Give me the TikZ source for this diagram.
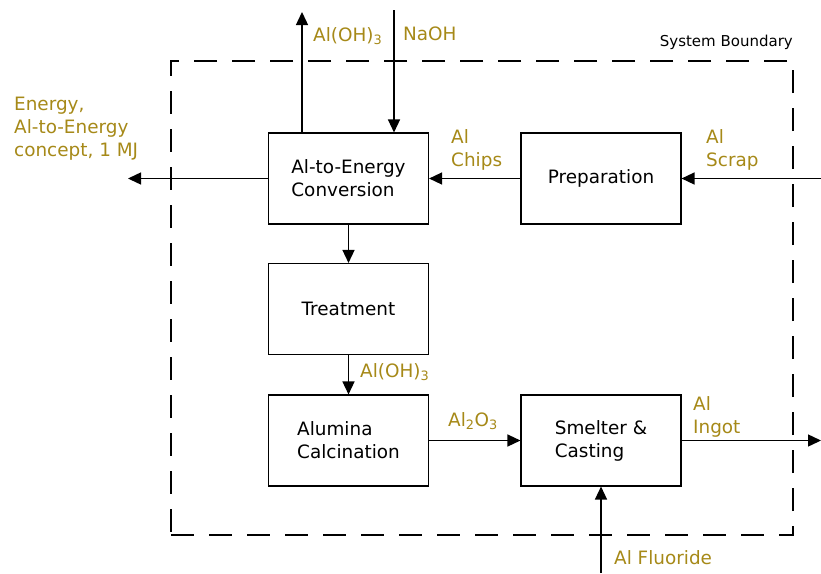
\documentclass[tikz,border=0pt]{standalone}
\usepackage{fontspec}
\setmainfont{DejaVu Sans}
\usetikzlibrary{arrows.meta}
\definecolor{flowgold}{RGB}{166,137,24}

\begin{document}
\begin{tikzpicture}[x=1pt,y=-1pt,
    proc/.style={draw,line width=1.1pt,minimum width=160pt,minimum height=91pt,
      font=\fontsize{18.4}{23}\selectfont,align=left},
    flow/.style={line width=1.4pt,-{Triangle[length=13pt,width=12pt]}},
    lbl/.style={text=flowgold,font=\fontsize{18.4}{23}\selectfont,align=left,
      anchor=base west,inner sep=0pt}]
  \useasboundingbox (0,0) rectangle (821,573);

  % System boundary
  \node[draw,line width=2.6pt,dash pattern=on 23pt off 15pt,
    minimum width=622pt,minimum height=474pt] (bound) at (482,298) {};
  \node[anchor=base east,inner sep=0pt,font=\fontsize{15}{18}\selectfont]
    (boundlbl) at (793,46) {System Boundary};

  % Process boxes
  \node[proc] (conv) at (348.5,178.5) {Al-to-Energy\\Conversion};
  \node[proc] (prep) at (601,178.5) {Preparation};
  \node[proc] (treat) at (348.5,309) {Treatment};
  \node[proc] (calc) at (348.5,440.5) {Alumina\\Calcination};
  \node[proc] (smelt) at (601,440.5) {Smelter \&\\Casting};

  % Free ends
  \coordinate (ohout) at (302,12);
  \coordinate (naohin) at (394,10);
  \coordinate (energy) at (128,180);
  \coordinate (scrap) at (821,179);
  \coordinate (ingot) at (821,441);
  \coordinate (fluor) at (601,573);

  % Flows
  \draw[flow] (conv.north -| ohout) -- (ohout);
  \draw[flow] (naohin) -- (naohin |- conv.north);
  \draw[flow] (conv.west) -- (conv.west -| energy);
  \draw[flow] (prep) -- (conv);
  \draw[flow] (scrap |- prep) -- (prep);
  \draw[flow] (conv) -- (treat);
  \draw[flow] (treat) -- (calc);
  \draw[flow] (calc) -- (smelt);
  \draw[flow] (smelt) -- (smelt -| ingot);
  \draw[flow] (fluor) -- (smelt);

  % Flow labels (multi-line ones sit on their last baseline)
  \node[lbl] (ohlbl) at (313,41) {Al(OH)\textsubscript{3}};
  \node[lbl] (naohlbl) at (403,40) {NaOH};
  \node[lbl] (energylbl) at (14,156) {Energy,\\Al-to-Energy\\concept, 1 MJ};
  \node[lbl] (chipslbl) at (451,166) {Al\\Chips};
  \node[lbl] (scraplbl) at (706,166) {Al\\Scrap};
  \node[lbl] (oh2lbl) at (360,377) {Al(OH)\textsubscript{3}};
  \node[lbl] (aloxlbl) at (448,426) {Al\textsubscript{2}O\textsubscript{3}};
  \node[lbl] (ingotlbl) at (693,433) {Al\\Ingot};
  \node[lbl] (fluorlbl) at (614,564) {Al Fluoride};
\end{tikzpicture}
\end{document}
